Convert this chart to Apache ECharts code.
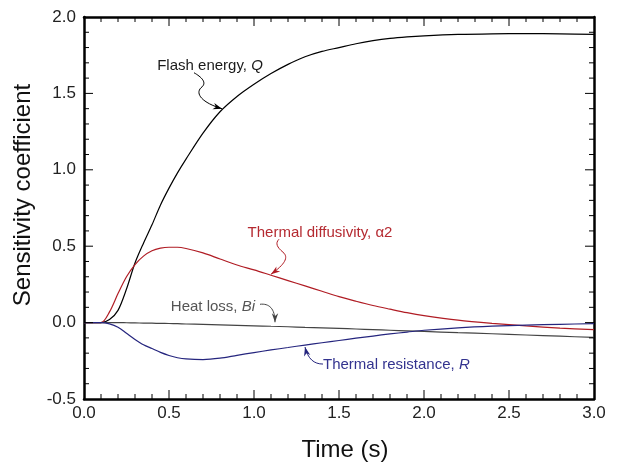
<!DOCTYPE html>
<html>
<head>
<meta charset="utf-8">
<script src="https://cdn.jsdelivr.net/npm/echarts@6/dist/echarts.min.js"></script>
<style>
  html, body { margin: 0; padding: 0; background: #fff; }
  #chart { width: 619px; height: 464px; }
</style>
</head>
<body>
<div id="chart"></div>
<script>
// time axis (s)
const timeS = [0, 0.1, 0.15, 0.2, 0.25, 0.3, 0.35, 0.4, 0.45, 0.5, 0.55, 0.6, 0.7, 0.8, 0.9, 1.0,
  1.1, 1.2, 1.3, 1.4, 1.5, 1.6, 1.7, 1.8, 1.9, 2.0, 2.2, 2.4, 2.6, 2.8, 3.0];

// sensitivity coefficients
const flashEnergyQ = [0, 0, 0.02, 0.08, 0.22, 0.39, 0.52, 0.64, 0.77, 0.88, 0.98, 1.07, 1.24, 1.38, 1.48, 1.56,
  1.63, 1.69, 1.74, 1.775, 1.80, 1.825, 1.845, 1.86, 1.87, 1.877, 1.886, 1.89, 1.891, 1.89, 1.886];
const thermalDiffusivity = [0, 0, 0.07, 0.19, 0.30, 0.38, 0.435, 0.47, 0.487, 0.493, 0.493, 0.485, 0.456, 0.416, 0.377, 0.345,
  0.31, 0.275, 0.24, 0.205, 0.17, 0.14, 0.112, 0.088, 0.065, 0.046, 0.016, -0.005, -0.022, -0.036, -0.046];
const heatLossBi = [0, 0, 0, 0, -0.001, -0.002, -0.003, -0.004, -0.005, -0.006, -0.007, -0.009, -0.012, -0.015, -0.018, -0.021,
  -0.024, -0.027, -0.031, -0.034, -0.038, -0.042, -0.046, -0.050, -0.054, -0.058, -0.066, -0.073, -0.081, -0.089, -0.097];
const thermalResistanceR = [0, 0, -0.008, -0.03, -0.07, -0.11, -0.145, -0.17, -0.195, -0.215, -0.23, -0.238, -0.242, -0.233, -0.214, -0.196,
  -0.179, -0.163, -0.147, -0.132, -0.117, -0.102, -0.088, -0.074, -0.062, -0.05, -0.034, -0.023, -0.016, -0.011, -0.007];

// axis ranges
const xRange = [0, 3];
const yRange = [-0.5, 2];

const FONT = "'Liberation Sans', Arial, Helvetica, sans-serif";

const seriesDefs = [
  { name: 'Flash energy, Q', values: flashEnergyQ, color: '#000000' },
  { name: 'Thermal diffusivity, α2', values: thermalDiffusivity, color: '#b01c24' },
  { name: 'Heat loss, Bi', values: heatLossBi, color: '#444444' },
  { name: 'Thermal resistance, R', values: thermalResistanceR, color: '#25257e' }
];

// annotation: which series, which sample the arrow points at, label text
const notes = [
  { series: 0, at: 13, text: 'Flash energy, {i|Q}', color: '#1a1a1a' },
  { series: 1, at: 16, text: 'Thermal diffusivity, α2', color: '#b52a31' },
  { series: 2, at: 16, text: 'Heat loss, {i|Bi}', color: '#555555' },
  { series: 3, at: 18, text: 'Thermal resistance, {i|R}', color: '#33338f' }
];

// squiggle shapes, pixel offsets from the arrow tip (start, then c1 c2 end per bezier)
const noteShapes = [
  { shift: [2, -3], path: [[-28, -36], [-21, -32], [-14, -26], [-21, -21], [-27, -15], [-20, -6], [0, 0]], label: [-12, -43], align: 'center' },
  { shift: [0, -1], path: [[8, -35], [4, -31], [6, -27], [12, -22], [18, -17], [14, -10], [0, 0]], label: [49, -41], align: 'center' },
  { shift: [4, -4], path: [[-15, -18], [-6, -19], [0, -14], [0, 0]], label: [-20, -15], align: 'right' },
  { shift: [0, 2], path: [[18, 17], [9, 17], [3, 12], [0, 0]], label: [18, 18], align: 'left' }
];

const chart = echarts.init(document.getElementById('chart'), null, { renderer: 'canvas' });

// fresh objects for every axis
function frame(extra) {
  return Object.assign({
    type: 'value',
    min: xRange[0], max: xRange[1], interval: 0.5,
    axisLine: { show: true, onZero: false, lineStyle: { color: '#000', width: 2.5 } },
    axisTick: { show: false },
    minorTick: { show: false },
    splitLine: { show: false },
    minorSplitLine: { show: false }
  }, extra);
}

const option = {
  animation: false,
  backgroundColor: '#fff',
  textStyle: { fontFamily: FONT },
  grid: { left: 84, right: 25, top: 17, bottom: 65, containLabel: false, outerBoundsMode: 'none' },
  xAxis: [
    frame({
      position: 'bottom',
      name: 'Time (s)', nameLocation: 'middle', nameGap: 39,
      nameTextStyle: { fontSize: 24, color: '#111', fontFamily: FONT, padding: [0, 0, 0, 12] },
      axisLabel: { fontSize: 17, color: '#222', margin: 6, fontFamily: FONT, formatter: v => v.toFixed(1) }
    }),
    frame({ position: 'top', axisLabel: { show: false } })
  ],
  yAxis: [
    frame({
      position: 'left', min: yRange[0], max: yRange[1],
      name: 'Sensitivity coefficient', nameLocation: 'middle', nameGap: 39,
      nameTextStyle: { fontSize: 24, color: '#111', fontFamily: FONT, padding: [0, 0, 0, 26] },
      axisLabel: { fontSize: 17, color: '#222', margin: 8, fontFamily: FONT, formatter: v => v.toFixed(1) }
    }),
    frame({ position: 'right', min: yRange[0], max: yRange[1], axisLabel: { show: false } })
  ],
  series: seriesDefs.map(s => ({
    name: s.name,
    type: 'line',
    xAxisIndex: 0,
    yAxisIndex: 0,
    data: timeS.map((t, i) => [t, s.values[i]]),
    showSymbol: false,
    smooth: 0.3,
    lineStyle: { color: s.color, width: 1.2 },
    z: 3
  }))
};

// inward ticks on all four sides: long every 0.5, short every 0.1
function tickGraphics() {
  const out = [];
  const px = v => chart.convertToPixel({ xAxisIndex: 0 }, v);
  const py = v => chart.convertToPixel({ yAxisIndex: 0 }, v);
  const left = px(xRange[0]), right = px(xRange[1]);
  const top = py(yRange[1]), bottom = py(yRange[0]);
  const seg = (x1, y1, x2, y2) => out.push({
    type: 'line', silent: true, z: 5,
    shape: { x1, y1, x2, y2 },
    style: { stroke: '#000', lineWidth: 1 }
  });
  for (let k = 1; k < 30; k++) {
    const len = k % 5 === 0 ? 9 : 5;
    const x = px(xRange[0] + k * 0.1);
    seg(x, bottom, x, bottom - len);
    seg(x, top, x, top + len);
  }
  for (let k = 1; k < 25; k++) {
    const len = k % 5 === 0 ? 9 : 5;
    const y = py(yRange[0] + k * 0.1);
    seg(left, y, left + len, y);
    seg(right, y, right - len, y);
  }
  return out;
}

function noteGraphics() {
  const graphics = [];
  notes.forEach((n, k) => {
    const def = seriesDefs[n.series];
    const shape = noteShapes[k];
    const p = chart.convertToPixel({ xAxisIndex: 0, yAxisIndex: 0 }, [timeS[n.at], def.values[n.at]]);
    const tip = [p[0] + shape.shift[0], p[1] + shape.shift[1]];
    const pts = shape.path.map(o => [tip[0] + o[0], tip[1] + o[1]]);
    for (let i = 1; i + 2 < pts.length; i += 3) {
      const a = pts[i - 1], c1 = pts[i], c2 = pts[i + 1], b = pts[i + 2];
      graphics.push({
        type: 'bezierCurve', silent: true, z: 10,
        shape: { x1: a[0], y1: a[1], cpx1: c1[0], cpy1: c1[1], cpx2: c2[0], cpy2: c2[1], x2: b[0], y2: b[1] },
        style: { fill: null, stroke: def.color, lineWidth: 1 }
      });
    }
    // arrow head
    const c2 = pts[pts.length - 2];
    let dx = tip[0] - c2[0], dy = tip[1] - c2[1];
    const len = Math.sqrt(dx * dx + dy * dy) || 1;
    dx /= len; dy /= len;
    const hl = 9, hw = 3.2;
    const bx = tip[0] - dx * hl, by = tip[1] - dy * hl;
    graphics.push({
      type: 'polygon', silent: true, z: 11,
      shape: { points: [tip, [bx - dy * hw, by + dx * hw], [tip[0] - dx * hl * 0.7, tip[1] - dy * hl * 0.7], [bx + dy * hw, by - dx * hw]] },
      style: { fill: def.color, stroke: null }
    });
    graphics.push({
      type: 'text', silent: true, z: 12,
      x: tip[0] + shape.label[0], y: tip[1] + shape.label[1],
      style: {
        text: n.text,
        fill: n.color,
        font: '15px ' + FONT,
        align: shape.align,
        verticalAlign: 'middle',
        rich: { i: { fontStyle: 'italic', fontSize: 15, fontFamily: FONT, fill: n.color } }
      }
    });
  });
  return graphics;
}

function drawExtras() {
  chart.setOption({ graphic: tickGraphics().concat(noteGraphics()) }, { replaceMerge: ['graphic'] });
}

chart.setOption(option);
drawExtras();
window.addEventListener('resize', () => { chart.resize(); drawExtras(); });
</script>
</body>
</html>
